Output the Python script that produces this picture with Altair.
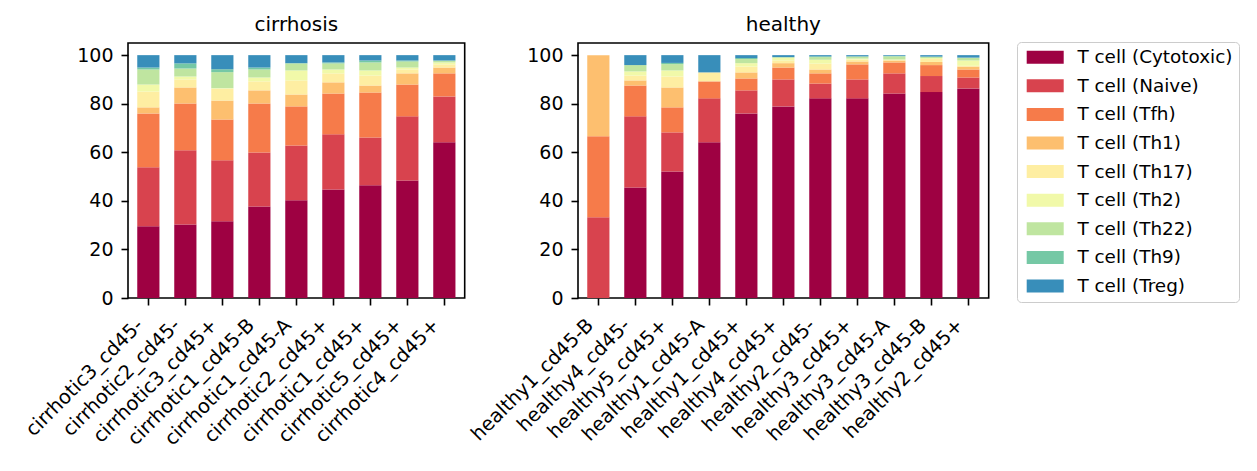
import altair as alt
import pandas as pd

cell_types = ["T cell (Cytotoxic)", "T cell (Naive)", "T cell (Tfh)", "T cell (Th1)",
              "T cell (Th17)", "T cell (Th2)", "T cell (Th22)", "T cell (Th9)", "T cell (Treg)"]
colors = ["#9e0142", "#d8434e", "#f67b4a", "#fdbf6f", "#feeea2",
          "#f1f9a9", "#bfe5a0", "#75c8a5", "#388eba"]

cirrhosis_samples = ["cirrhotic3_cd45-", "cirrhotic2_cd45-", "cirrhotic3_cd45+", "cirrhotic1_cd45-B",
                     "cirrhotic1_cd45-A", "cirrhotic2_cd45+", "cirrhotic1_cd45+", "cirrhotic5_cd45+",
                     "cirrhotic4_cd45+"]
healthy_samples = ["healthy1_cd45-B", "healthy4_cd45-", "healthy5_cd45+", "healthy1_cd45-A",
                   "healthy1_cd45+", "healthy4_cd45+", "healthy2_cd45-", "healthy3_cd45+",
                   "healthy3_cd45-A", "healthy3_cd45-B", "healthy2_cd45+"]

# cirrhosis proportions (%) per cell type, in sample order
cir_cytotoxic = [29.5, 30.3, 31.6, 37.7, 40.2, 44.7, 46.4, 48.4, 64.1]
cir_naive     = [24.3, 30.5, 25.1, 22.2, 22.6, 22.7, 19.7, 26.4, 18.9]
cir_tfh       = [22.2, 19.3, 16.8, 20.2, 16.1, 16.8, 18.5, 13.1, 9.5]
cir_th1       = [2.5, 6.6, 7.8, 5.4, 4.9, 4.6, 2.9, 4.6, 2.4]
cir_th17      = [6.5, 3.3, 4.9, 3.7, 5.8, 3.7, 4.1, 1.6, 1.3]
cir_th2       = [2.9, 1.2, 0.2, 1.6, 4.1, 1.6, 2.1, 0.8, 0.8]
cir_th22      = [6.2, 3.3, 6.6, 3.3, 2.9, 2.5, 3.3, 2.5, 0.7]
cir_th9       = [0.8, 2.1, 1.2, 0.8, 0.1, 0.4, 0.8, 0.4, 0.1]
cir_treg      = [5.1, 3.4, 5.8, 5.1, 3.3, 3.0, 2.2, 2.2, 2.2]

# healthy proportions (%) per cell type, in sample order
hea_cytotoxic = [0.0, 45.5, 52.1, 64.1, 76.0, 78.9, 82.2, 82.2, 84.2, 84.8, 86.3]
hea_naive     = [33.3, 29.3, 16.1, 18.1, 9.5, 11.1, 6.1, 7.8, 8.3, 6.6, 4.5]
hea_tfh       = [33.3, 12.7, 10.3, 7.0, 4.9, 4.9, 4.2, 6.2, 4.5, 4.5, 3.3]
hea_th1       = [33.4, 2.1, 8.2, 0.0, 2.5, 1.8, 1.6, 1.2, 0.8, 1.3, 1.2]
hea_th17      = [0.0, 2.0, 4.5, 3.7, 2.4, 1.1, 2.4, 0.8, 0.2, 1.2, 0.3]
hea_th2       = [0.0, 1.7, 2.5, 0.0, 1.4, 1.1, 1.6, 0.4, 0.2, 0.4, 2.2]
hea_th22      = [0.0, 2.6, 2.6, 0.0, 1.7, 0.3, 1.1, 0.8, 1.3, 0.5, 1.1]
hea_th9       = [0.0, 0.0, 0.5, 0.0, 0.4, 0.0, 0.3, 0.1, 0.2, 0.1, 0.1]
hea_treg      = [0.0, 4.1, 3.2, 7.1, 1.2, 0.8, 0.5, 0.5, 0.3, 0.6, 1.0]

cir_series = [cir_cytotoxic, cir_naive, cir_tfh, cir_th1, cir_th17, cir_th2, cir_th22, cir_th9, cir_treg]
hea_series = [hea_cytotoxic, hea_naive, hea_tfh, hea_th1, hea_th17, hea_th2, hea_th22, hea_th9, hea_treg]


def long_table(samples, series):
    rows = []
    for ci, (ct, vals) in enumerate(zip(cell_types, series)):
        for s, v in zip(samples, vals):
            rows.append({"sample": s, "cell": ct, "idx": ci, "value": v})
    return pd.DataFrame(rows)


FONT = "DejaVu Sans"

legend = alt.Legend(
    title=None,
    orient="none",
    legendX=889,
    legendY=-1,
    symbolType="M-1.1,-1.3H6.3V1.3H-1.1Z",
    symbolSize=100,
    symbolStrokeWidth=0,
    symbolOpacity=1,
    labelOffset=36,
    labelFontSize=18.4,
    labelFont=FONT,
    labelColor="black",
    labelLimit=400,
    rowPadding=9.6,
    padding=6,
    strokeColor="#cccccc",
    fillColor="white",
    cornerRadius=4,
)


def panel(df, samples, title):
    return alt.Chart(df).mark_bar().encode(
        x=alt.X("sample:N", sort=samples, title=None,
                scale=alt.Scale(paddingInner=0.4, paddingOuter=0.25),
                axis=alt.Axis(labelAngle=315, labelAlign="right", labelBaseline="alphabetic",
                              labelPadding=21, labelOffset=-4, labelFontSize=19.5)),
        y=alt.Y("value:Q", stack="zero", title=None,
                scale=alt.Scale(domain=[0, 105], nice=False, zero=True),
                axis=alt.Axis(values=[0, 20, 40, 60, 80, 100], labelPadding=8)),
        color=alt.Color("cell:N", scale=alt.Scale(domain=cell_types, range=colors), legend=legend),
        order=alt.Order("idx:Q", sort="ascending"),
    ).properties(width=alt.Step(37), height=255, title=title)


cir = panel(long_table(cirrhosis_samples, cir_series), cirrhosis_samples, "cirrhosis")
hea = panel(long_table(healthy_samples, hea_series), healthy_samples, "healthy")

chart = alt.hconcat(cir, hea, spacing=113, bounds="flush").properties(
    padding={"left": 12, "top": 6, "right": 5, "bottom": 5}
).configure_view(
    stroke="black", strokeWidth=1.6
).configure_axis(
    domain=False, grid=False, ticks=True, tickSize=7, tickWidth=1.6, tickColor="black",
    labelFont=FONT, labelFontSize=19, labelColor="black"
).configure_title(
    font=FONT, fontSize=20, fontWeight="normal", color="black", anchor="middle",
    baseline="alphabetic", offset=8
)

chart.save("out.html", embed_options={"renderer": "svg", "actions": False})
